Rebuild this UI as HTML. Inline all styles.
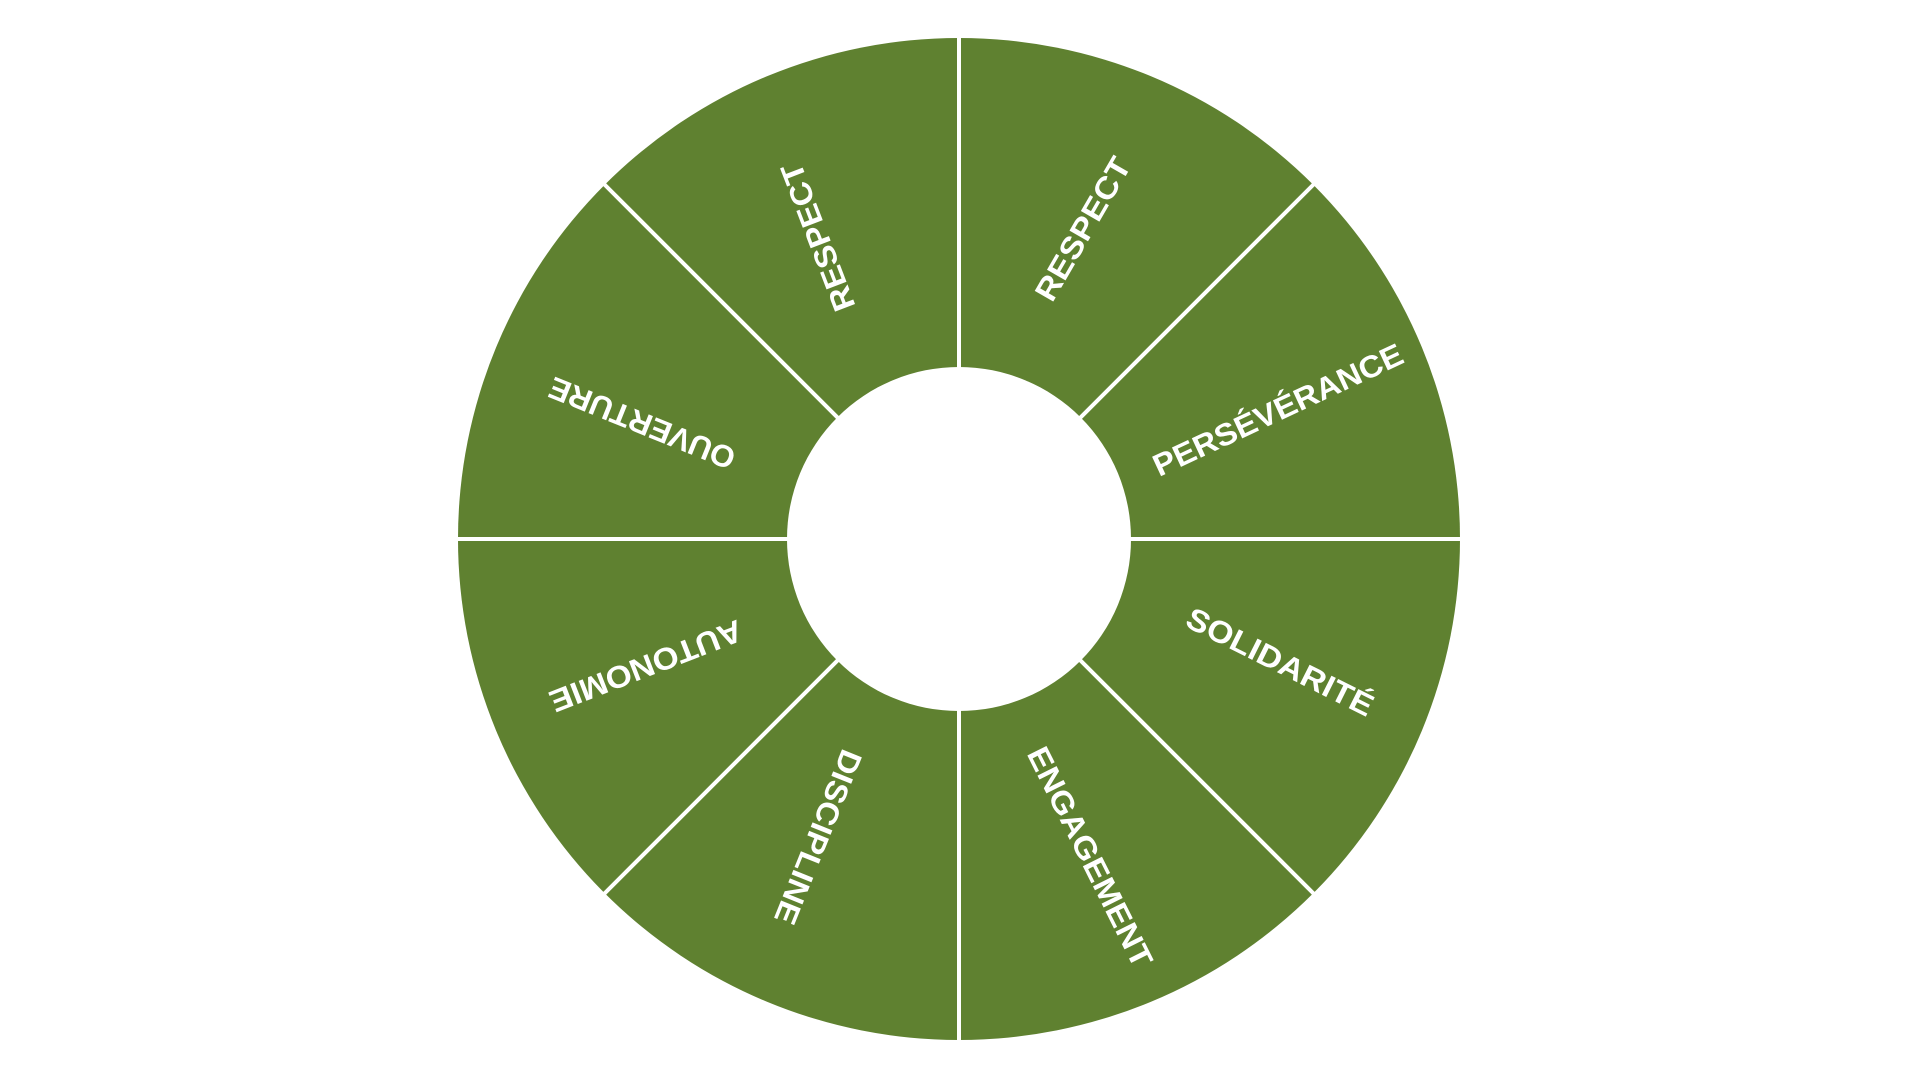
<!DOCTYPE html>
<html><head><meta charset="utf-8"><style>
html,body{margin:0;padding:0;background:#fff;width:1920px;height:1080px;overflow:hidden}
svg{display:block}
text{font-family:"Liberation Sans",sans-serif;font-weight:bold;font-size:31px;fill:#fff;text-anchor:middle;dominant-baseline:central}
</style></head><body>
<svg width="1920" height="1080" viewBox="0 0 1920 1080">
<circle cx="959" cy="539" r="501" fill="#5f8130"/>
<circle cx="959" cy="539" r="172" fill="#fff"/>
<g stroke="#fff" stroke-width="4">
<line x1="959" y1="30" x2="959" y2="1048"/>
<line x1="450" y1="539" x2="1468" y2="539"/>
<line x1="599" y1="179" x2="1319" y2="899"/>
<line x1="1319" y1="179" x2="599" y2="899"/>
</g>
<text transform="translate(1083,229) rotate(-60)" textLength="160" lengthAdjust="spacingAndGlyphs">RESPECT</text>
<text transform="translate(1278,410) rotate(-25)" textLength="272" lengthAdjust="spacingAndGlyphs">PERSÉVÉRANCE</text>
<text transform="translate(1280,662) rotate(26.6)" textLength="205" lengthAdjust="spacingAndGlyphs">SOLIDARITÉ</text>
<text transform="translate(1090,857) rotate(63.4)" textLength="242" lengthAdjust="spacingAndGlyphs">ENGAGEMENT</text>
<text transform="translate(818,837) rotate(112)" textLength="185" lengthAdjust="spacingAndGlyphs">DISCIPLINE</text>
<text transform="translate(646,666) rotate(158.8)" textLength="204" lengthAdjust="spacingAndGlyphs">AUTONOMIE</text>
<text transform="translate(642,423) rotate(202)" textLength="198" lengthAdjust="spacingAndGlyphs">OUVERTURE</text>
<text transform="translate(818,237) rotate(-111)" textLength="156" lengthAdjust="spacingAndGlyphs">RESPECT</text>
</svg>
</body></html>
